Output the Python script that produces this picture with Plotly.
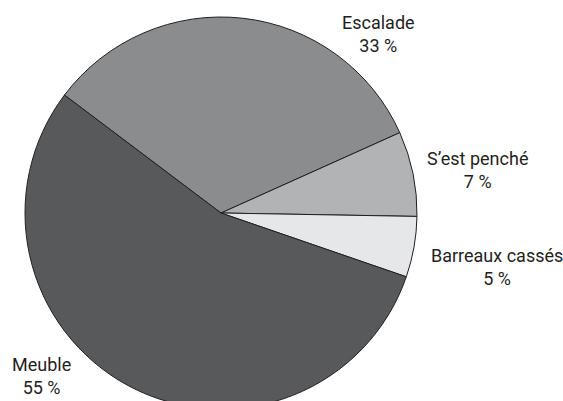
import plotly.graph_objects as go

labels = ["Escalade", "S'est penché", "Barreaux cassés", "Meuble"]
values = [33, 7, 5, 55]
pct_text = ["33 %", "7 %", "5 %", "55 %"]
colors = ["#8b8c8e", "#b2b3b5", "#e6e7e8", "#58595b"]

W, H = 563, 410

fig = go.Figure(go.Pie(
    labels=labels,
    values=values,
    sort=False,
    direction="clockwise",
    rotation=-53,
    marker=dict(colors=colors, line=dict(color="#231f20", width=1)),
    textinfo="none",
    hoverinfo="label+percent",
    showlegend=False,
    domain=dict(x=[(221 - 196) / W, (221 + 196) / W], y=[1 - 409 / H, 1 - 17 / H]),
))

label_pos = [(378, 34), (477, 170), (497, 267), (41, 376)]
font = dict(family="Roboto, sans-serif", size=18, color="#231f20")
for lab, pt, (px, py) in zip(labels, pct_text, label_pos):
    fig.add_annotation(
        x=px / W, y=1 - py / H, xref="paper", yref="paper",
        text=lab.replace("'", "’") + "<br>" + pt,
        showarrow=False, xanchor="center", yanchor="middle", align="center",
        font=font,
    )

fig.update_layout(
    width=W, height=H,
    margin=dict(l=0, r=0, t=0, b=0),
    paper_bgcolor="white",
    plot_bgcolor="white",
)

fig.write_html("out.html", config={"displayModeBar": False},
               post_script="document.body.style.margin='0';document.body.style.overflow='hidden';document.documentElement.style.overflow='hidden';")
